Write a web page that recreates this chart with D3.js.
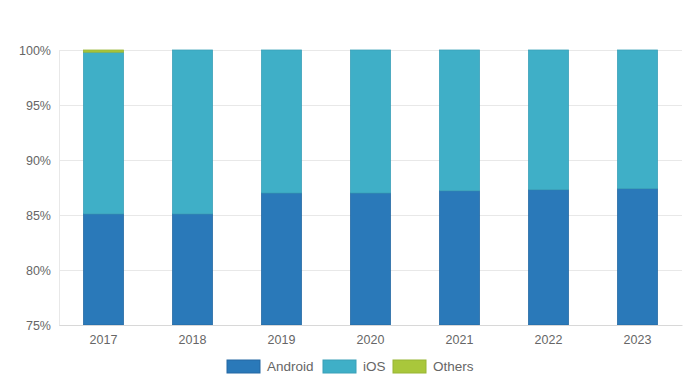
<!DOCTYPE html>
<html>
<head>
<meta charset="utf-8">
<script src="https://cdn.jsdelivr.net/npm/d3@7"></script>
<style>
	body { margin: 0; background: #fff; }
	svg text { font-family: "Liberation Sans", Helvetica, Arial, sans-serif; fill: #666; }
</style>
</head>
<body>
<svg width="700" height="387"></svg>
<script>
var years = ["2017", "2018", "2019", "2020", "2021", "2022", "2023"];
var seriesNames = ["Android", "iOS", "Others"];
var android = [85.1, 85.1, 87.0, 87.0, 87.2, 87.3, 87.4];
var ios = [14.7, 14.9, 13.0, 13.0, 12.8, 12.7, 12.6];
var others = [0.2, 0, 0, 0, 0, 0, 0];
var yTicks = [75, 80, 85, 90, 95, 100];
var colors = ["#2a79b9", "#3fafc7", "#a9c73b"];
var strokes = ["#2569a3", "#3aa0b8", "#98b535"];

var svg = d3.select("svg"),
    margin = {top: 50, right: 18, bottom: 62, left: 59},
    width = +svg.attr("width") - margin.left - margin.right,
    height = +svg.attr("height") - margin.top - margin.bottom;

var data = years.map(function(y, i) {
	return {year: y, Android: android[i], iOS: ios[i], Others: others[i]};
});

var x = d3.scaleBand().domain(years).range([0, width]).paddingInner(0.54).paddingOuter(0.27);
var y = d3.scaleLinear().domain([75, 100]).range([height, 0]);
var z = d3.scaleOrdinal().domain(seriesNames).range(colors);
var zs = d3.scaleOrdinal().domain(seriesNames).range(strokes);

var g = svg.append("g").attr("transform", "translate(" + margin.left + "," + margin.top + ")");

// grid
g.append("g")
	.selectAll("line").data(yTicks).enter().append("line")
	.attr("x1", 0).attr("x2", width)
	.attr("y1", function(d) { return y(d) + 0.5; })
	.attr("y2", function(d) { return y(d) + 0.5; })
	.attr("stroke", "#e8e8e8");

g.append("line")
	.attr("x1", 0.5).attr("x2", 0.5).attr("y1", 0).attr("y2", height)
	.attr("stroke", "#e8e8e8");

// y axis labels
var yAxis = g.append("g").call(d3.axisLeft(y).tickValues(yTicks).tickSize(0).tickPadding(8)
	.tickFormat(function(d) { return d + "%"; }));
yAxis.select(".domain").remove();
yAxis.selectAll("text").style("font-size", "12.5px").attr("fill", "#666");

var stack = d3.stack().keys(seriesNames);

var layer = g.selectAll(".layer").data(stack(data)).enter().append("g")
	.attr("class", "layer")
	.attr("fill", function(d) { return z(d.key); })
	.attr("stroke", function(d) { return zs(d.key); });

// axis starts at 75%, so clip the stacked segments to the visible range
layer.selectAll("rect")
	.data(function(d) { return d.filter(function(p) { return p[1] - p[0] > 0; }); })
	.enter().append("rect")
	.attr("x", function(d) { return x(d.data.year) + 0.5; })
	.attr("width", x.bandwidth() - 1)
	.attr("y", function(d) { return y(Math.min(d[1], 100)); })
	.attr("height", function(d) { return y(Math.max(d[0], 75)) - y(Math.min(d[1], 100)); })
	.attr("stroke-width", 0.8);

// x axis
var xAxis = g.append("g")
	.attr("transform", "translate(0," + height + ")")
	.call(d3.axisBottom(x).tickSize(0).tickPadding(10));
xAxis.select(".domain").attr("stroke", "#d8d8d8");
xAxis.selectAll("text").style("font-size", "12.5px").attr("fill", "#666");

// legend
var legendX = [227, 323, 393];
var legend = svg.append("g").attr("transform", "translate(0,360)");
var item = legend.selectAll("g").data(seriesNames).enter().append("g")
	.attr("transform", function(d, i) { return "translate(" + legendX[i] + ",0)"; });
item.append("rect")
	.attr("width", 33).attr("height", 13)
	.attr("fill", function(d) { return z(d); })
	.attr("stroke", function(d) { return zs(d); });
item.append("text")
	.attr("x", 40).attr("y", 11)
	.style("font-size", "13.5px")
	.text(function(d) { return d; });
</script>
</body>
</html>
